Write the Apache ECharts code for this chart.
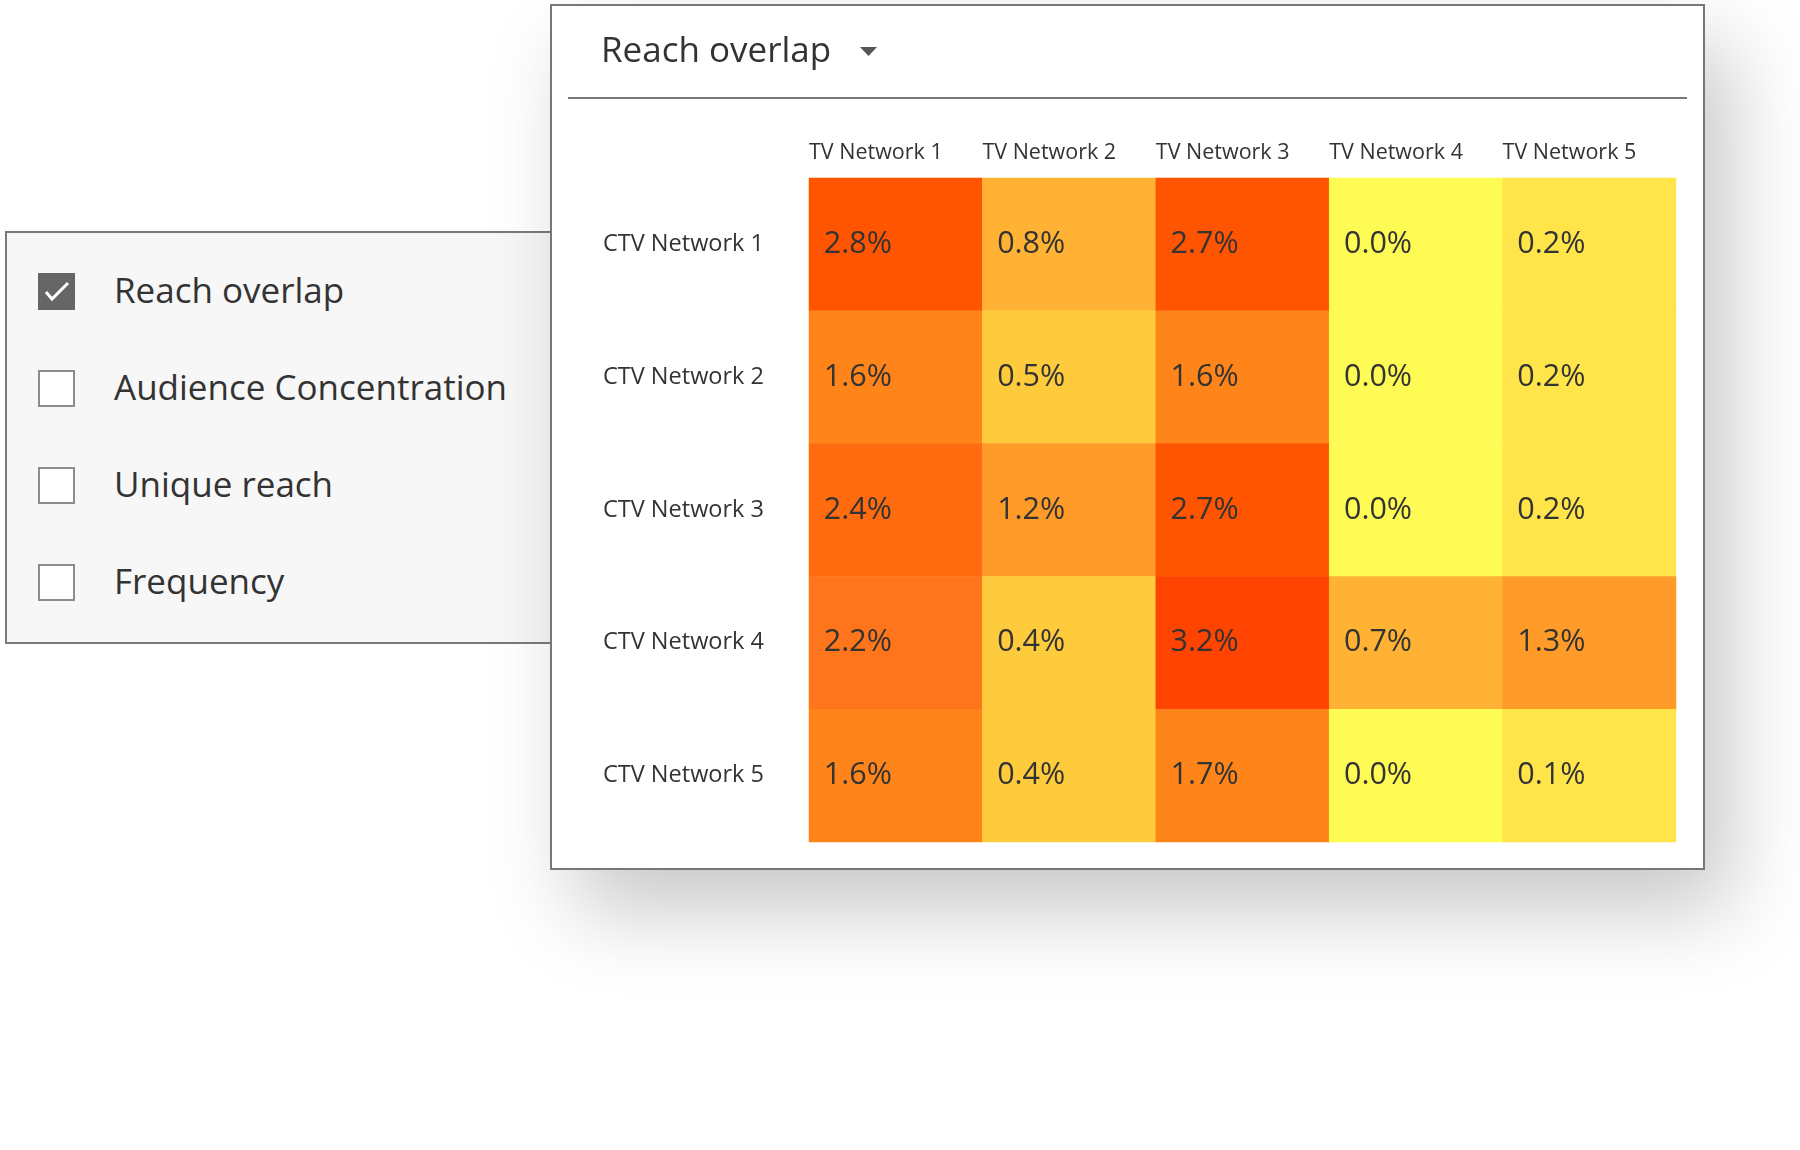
<!DOCTYPE html>
<html>
<head>
<meta charset="utf-8">
<script src="https://cdn.jsdelivr.net/npm/echarts@6/dist/echarts.min.js"></script>
<style>
  html, body { margin:0; padding:0; width:1800px; height:1150px; background:#fff; overflow:hidden; font-family:'Open Sans', sans-serif; }
  #side { position:absolute; left:5px; top:231px; width:700px; height:413px; box-sizing:border-box; border:2px solid #7a7a7a; background:#f7f7f7; z-index:1; }
  .box { position:absolute; left:31px; width:37px; height:37px; box-sizing:border-box; border:2px solid #8c8c8c; background:#fff; }
  .box.on { background:#666; border-color:#666; }
  .box svg { position:absolute; left:-2px; top:-2px; }
  .lbl { position:absolute; left:107px; font-size:35px; color:#333; white-space:nowrap; line-height:40px; }
  #main { position:absolute; left:550px; top:4px; width:1155px; height:866px; box-sizing:border-box; border:2px solid #777; background:#fff; z-index:2; box-shadow:25px 40px 80px rgba(0,0,0,0.22); }
  #chart { position:absolute; left:0; top:0; width:1800px; height:1150px; z-index:3; }
</style>
</head>
<body>
<div id="side"></div>
<div id="main"></div>
<div id="chart"></div>
<script>
// ---- data ----
const panelTitle = 'Reach overlap';
const metricOptions = ['Reach overlap', 'Audience Concentration', 'Unique reach', 'Frequency'];
const selectedMetric = 'Reach overlap';
const tvNetworks = ['TV Network 1', 'TV Network 2', 'TV Network 3', 'TV Network 4', 'TV Network 5'];
const ctvNetworks = ['CTV Network 1', 'CTV Network 2', 'CTV Network 3', 'CTV Network 4', 'CTV Network 5'];
const ctv1 = [2.8, 0.8, 2.7, 0.0, 0.2];
const ctv2 = [1.6, 0.5, 1.6, 0.0, 0.2];
const ctv3 = [2.4, 1.2, 2.7, 0.0, 0.2];
const ctv4 = [2.2, 0.4, 3.2, 0.7, 1.3];
const ctv5 = [1.6, 0.4, 1.7, 0.0, 0.1];
const overlapRows = [ctv1, ctv2, ctv3, ctv4, ctv5];

// ---- side panel (metric selector) ----
const side = document.getElementById('side');
const centers = [291, 388, 485, 582];
metricOptions.forEach((name, i) => {
  const c = centers[i] - 233;
  const box = document.createElement('div');
  box.className = 'box' + (name === selectedMetric ? ' on' : '');
  box.style.top = (c - 18) + 'px';
  if (name === selectedMetric) {
    box.innerHTML = '<svg width="37" height="37" viewBox="0 0 37 37"><polyline points="8,19 14,26 30,10" fill="none" stroke="#fff" stroke-width="3"/></svg>';
  }
  side.appendChild(box);
  const lbl = document.createElement('div');
  lbl.className = 'lbl';
  lbl.style.top = (c - 21) + 'px';
  lbl.textContent = name;
  side.appendChild(lbl);
});

// ---- chart ----
const heatData = [];
overlapRows.forEach((row, r) => row.forEach((v, c) => heatData.push([c, r, v])));

const FONT = "'Open Sans', sans-serif";
const gridLeft = 809, gridTop = 178, gridW = 867, gridH = 664;
const colW = gridW / tvNetworks.length;

const chart = echarts.init(document.getElementById('chart'), null, { renderer: 'canvas' });
chart.setOption({
  animation: false,
  backgroundColor: 'transparent',
  title: {
    text: panelTitle,
    left: 601, top: 35, padding: 0,
    textStyle: { fontFamily: FONT, fontSize: 35, fontWeight: 'normal', color: '#333' }
  },
  graphic: [
    { type: 'polygon', shape: { points: [[860, 47], [877, 47], [868.5, 56]] }, style: { fill: '#555' } },
    { type: 'line', shape: { x1: 568, y1: 98, x2: 1687, y2: 98 }, style: { stroke: '#777', lineWidth: 2 } }
  ],
  grid: [
    { left: gridLeft, top: gridTop, width: gridW, height: gridH },
    { left: gridLeft - colW / 2, top: gridTop, width: gridW, height: gridH }
  ],
  xAxis: [
    { type: 'category', gridIndex: 0, data: tvNetworks, show: false },
    {
      type: 'category', gridIndex: 1, data: tvNetworks, position: 'top',
      axisLine: { show: false }, axisTick: { show: false }, splitLine: { show: false },
      axisLabel: { interval: 0, hideOverlap: false, align: 'left', verticalAlign: 'middle', margin: 25, fontFamily: FONT, fontSize: 21.5, color: '#333' }
    }
  ],
  yAxis: [
    {
      type: 'category', gridIndex: 0, data: ctvNetworks, inverse: true,
      axisLine: { show: false }, axisTick: { show: false }, splitLine: { show: false },
      axisLabel: { interval: 0, align: 'left', margin: gridLeft - 603, fontFamily: FONT, fontSize: 23.5, color: '#333' }
    },
    { type: 'category', gridIndex: 1, data: ctvNetworks, show: false }
  ],
  visualMap: {
    type: 'piecewise', show: false, dimension: 2, seriesIndex: 0,
    pieces: [
      { gte: 0.0, lt: 0.05, color: '#FFFB55' },
      { gte: 0.05, lt: 0.3, color: '#FFE54A' },
      { gte: 0.3, lt: 0.6, color: '#FECB3D' },
      { gte: 0.6, lt: 1.0, color: '#FFB233' },
      { gte: 1.0, lt: 1.4, color: '#FF9B28' },
      { gte: 1.4, lt: 2.0, color: '#FF851A' },
      { gte: 2.0, lt: 2.3, color: '#FF751C' },
      { gte: 2.3, lt: 2.6, color: '#FF6B0E' },
      { gte: 2.6, lt: 3.0, color: '#FF5500' },
      { gte: 3.0, lte: 10, color: '#FF4300' }
    ]
  },
  series: [{
    type: 'heatmap',
    xAxisIndex: 0, yAxisIndex: 0,
    data: heatData,
    itemStyle: { borderWidth: 0 },
    emphasis: { disabled: true },
    label: {
      show: true, position: 'insideLeft', distance: 15,
      fontFamily: FONT, fontSize: 30.5, color: '#333',
      formatter: p => p.value[2].toFixed(1) + '%'
    }
  }]
});
</script>
</body>
</html>
